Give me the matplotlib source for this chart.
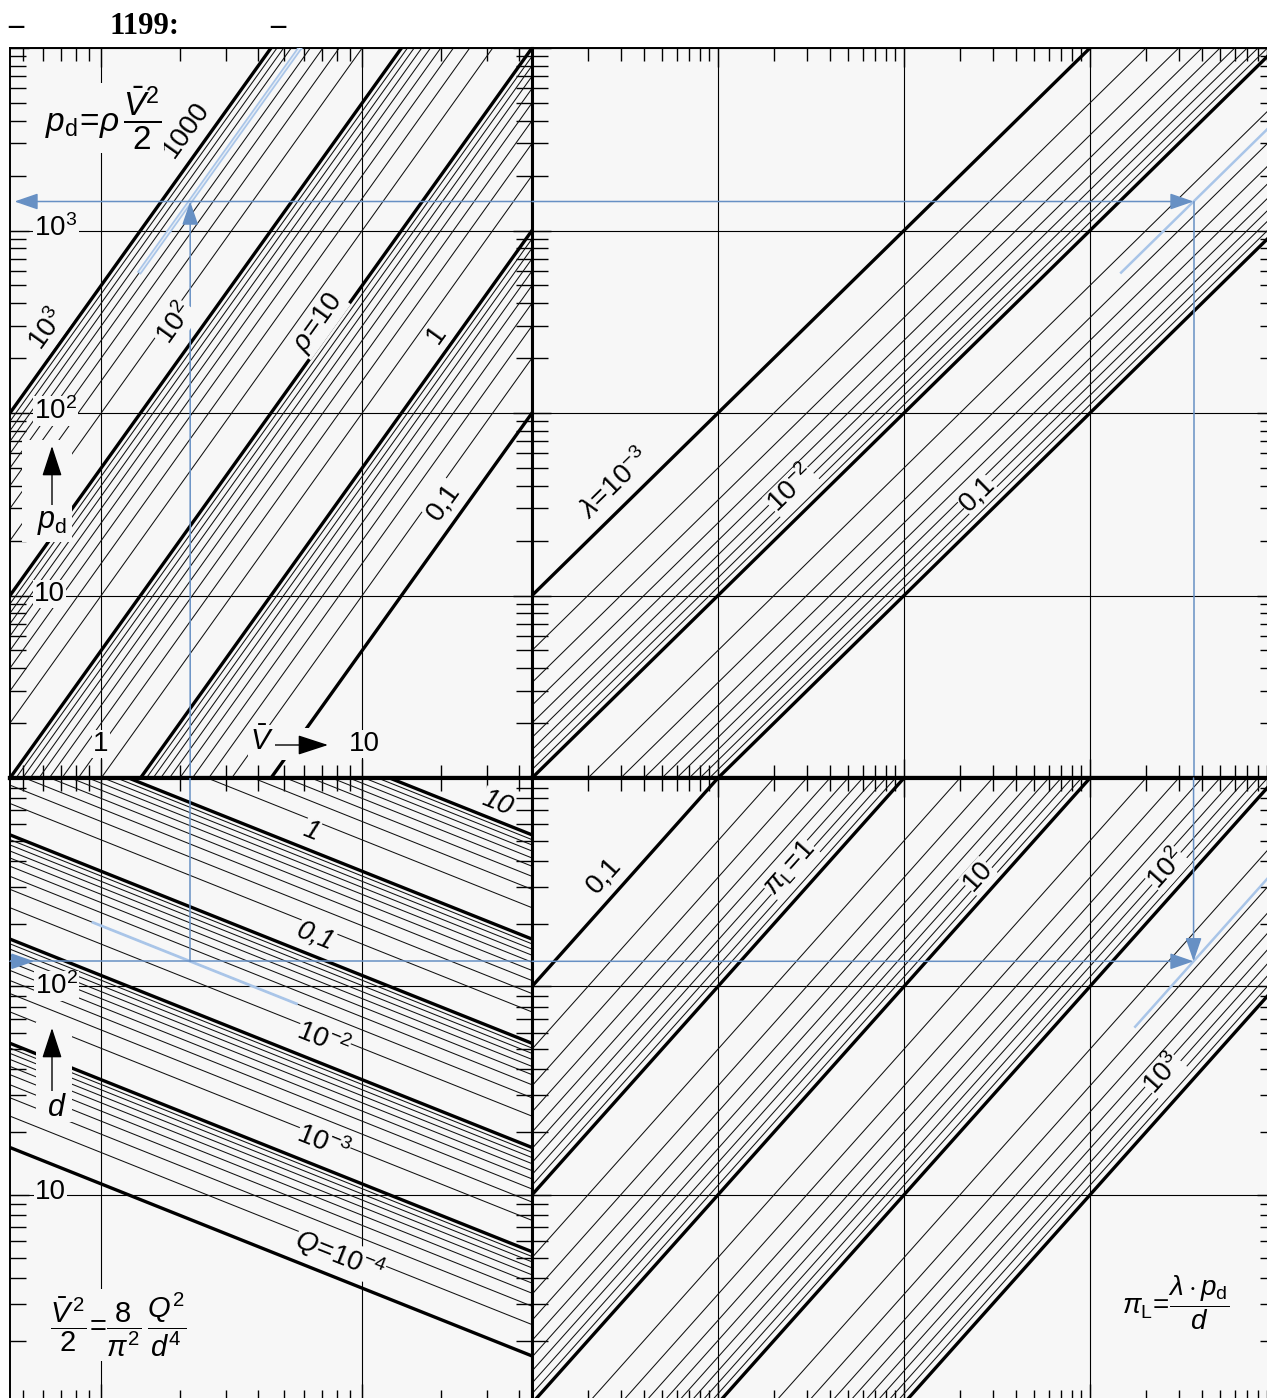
import numpy as np
import matplotlib.pyplot as plt
import matplotlib.transforms as mtransforms
from matplotlib.patches import FancyArrowPatch, Rectangle

plt.rcParams['font.family'] = ['Liberation Sans', 'DejaVu Sans']
plt.rcParams['mathtext.fontset'] = 'custom'
plt.rcParams['mathtext.rm'] = 'Liberation Sans'
plt.rcParams['mathtext.it'] = 'Liberation Sans:italic'
plt.rcParams['mathtext.bf'] = 'Liberation Sans:bold'

# axis ranges
V_lim = [0.2 ** 0.5, 2000 ** 0.5]   # mean velocity
p_lim = [1, 1e4]                    # dynamic pressure p_d
X_lim = [0.01, 100]                 # lambda * p_d
d_lim = [1, 1000]                   # diameter d

# families of lines (thick), thin lines are the 2..9 steps in between
rho_main = [0.1, 1, 10, 100, 1000]
Q_main = [1e-4, 1e-3, 1e-2, 0.1, 1, 10]
lam_main = [1e-3, 1e-2, 0.1]
piL_main = [0.1, 1, 10, 100, 1000]
steps = [2, 3, 4, 5, 6, 7, 8, 9]

# worked example (blue)
d_ex = 132
Q_ex = 0.03
rho_ex = 600
lam_ex = 0.025


def thin(main):
    return [m * a for a in main[:-1] for m in steps]


def p_of(rho, V):
    return rho * V ** 2 / 2


def V_of(Q, d):
    return 4e6 * Q / (np.pi * d ** 2)


V_ex = V_of(Q_ex, d_ex)
p_ex = p_of(rho_ex, V_ex)
X_ex = lam_ex * p_ex
piL_ex = 1000 * X_ex / d_ex

W, H = 1267, 1398
bg = '#f7f7f7'
blue = '#6790c4'
light = '#a9c5e8'

fig = plt.figure(figsize=(W / 100, H / 100), dpi=100)
px = mtransforms.Affine2D().scale(1 / W, -1 / H).translate(0, 1) + fig.transFigure


def box(x0, y0, x1, y1):
    return [x0 / W, 1 - y1 / H, (x1 - x0) / W, (y1 - y0) / H]


ax_tl = fig.add_axes(box(10, 48, 532, 778))
ax_tr = fig.add_axes(box(532, 48, 1276, 778))
ax_bl = fig.add_axes(box(10, 778, 532, 1403.3))
ax_br = fig.add_axes(box(532, 778, 1276, 1403.3))

for ax in (ax_tl, ax_tr, ax_bl, ax_br):
    ax.set_xscale('log')
    ax.set_yscale('log')
    ax.set_facecolor(bg)
    ax.tick_params(which='both', direction='in', top=True, right=True,
                   labelbottom=False, labelleft=False, width=1.0)
    ax.tick_params(which='major', length=14)
    ax.tick_params(axis='x', which='minor', length=9.5)
    ax.tick_params(axis='y', which='minor', length=11.5)
    ax.grid(True, which='major', color='black', lw=0.8, zorder=2.5)
    for s in ax.spines.values():
        s.set_linewidth(1.4)

ax_tl.spines['bottom'].set_linewidth(3.0)
ax_tr.spines['bottom'].set_linewidth(3.0)
ax_bl.spines['top'].set_linewidth(3.0)
ax_br.spines['top'].set_linewidth(3.0)
for ax in (ax_tl, ax_bl):
    ax.spines['right'].set_linewidth(2.2)
for ax in (ax_tr, ax_br):
    ax.spines['left'].set_linewidth(2.2)

thin_kw = dict(color='#111111', lw=0.75, zorder=2)
thick_kw = dict(color='black', lw=2.4, zorder=3)

# top left: p_d = rho V^2 / 2
Vv = np.array(V_lim)
for r in thin(rho_main):
    ax_tl.plot(Vv, p_of(r, Vv), **thin_kw)
for r in rho_main:
    ax_tl.plot(Vv, p_of(r, Vv), **thick_kw)

# bottom left: V^2/2 = 8/pi^2 Q^2/d^4
dv = np.array(d_lim)
for q in thin(Q_main):
    ax_bl.plot(V_of(q, dv), dv, **thin_kw)
for q in Q_main:
    ax_bl.plot(V_of(q, dv), dv, **thick_kw)

# top right: p_d = X / lambda
Xv = np.array(X_lim)
for lam in thin(lam_main):
    ax_tr.plot(Xv, Xv / lam, **thin_kw)
for lam in lam_main:
    ax_tr.plot(Xv, Xv / lam, **thick_kw)

# bottom right: pi_L = lambda p_d / d
for pl in thin(piL_main):
    ax_br.plot(Xv, 1000 * Xv / pl, **thin_kw)
for pl in piL_main:
    ax_br.plot(Xv, 1000 * Xv / pl, **thick_kw)

# highlighted lines of the example
Vh = np.array([1.41, 6.0])
ax_tl.plot(Vh, p_of(rho_ex, Vh), color=light, lw=3.4, zorder=4)
ax_tl.plot(Vh, p_of(rho_ex, Vh), color='#e4ecf6', lw=1.0, zorder=4)
Vq = np.array([0.93, 5.6])
ax_bl.plot(Vq, np.sqrt(4e6 * Q_ex / (np.pi * Vq)), color=light, lw=2.0, zorder=4)
Xh = np.array([14.7, 100])
ax_tr.plot(Xh, Xh / lam_ex, color=light, lw=1.8, zorder=4)
Xb = np.array([17.5, 100])
ax_br.plot(Xb, 1000 * Xb / piL_ex, color=light, lw=1.8, zorder=4)

for ax, xl, yl in [(ax_tl, V_lim, p_lim), (ax_tr, X_lim, p_lim),
                   (ax_bl, V_lim, d_lim), (ax_br, X_lim, d_lim)]:
    ax.set_xlim(xl)
    ax.set_ylim(yl)


# example path
def arrow(ax, tail, tip):
    ax.annotate('', xy=tip, xytext=tail, zorder=5,
                arrowprops=dict(arrowstyle='-|>,head_length=1.45,head_width=0.5',
                                mutation_scale=10, color=blue, lw=1.1,
                                shrinkA=0, shrinkB=0))


arrow(ax_tl, (V_lim[1], p_ex), (V_lim[0] * 1.04, p_ex))
arrow(ax_tl, (V_ex, 1), (V_ex, p_ex))
arrow(ax_tr, (X_lim[0], p_ex), (X_ex, p_ex))
ax_tr.plot([X_ex, X_ex], [p_ex, 1], color=blue, lw=1.1, zorder=5)
ax_bl.plot([V_ex, V_ex], [d_ex, 1000], color=blue, lw=1.1, zorder=5)
ax_bl.plot(V_lim, [d_ex, d_ex], color=blue, lw=1.1, zorder=5)
arrow(ax_bl, (V_lim[0], d_ex), (V_lim[0] * 1.24, d_ex))
arrow(ax_br, (X_ex, 1000), (X_ex, d_ex))
arrow(ax_br, (X_lim[0], d_ex), (X_ex, d_ex))

# masks under the axis arrows
for x0, y0, x1, y1 in [(22, 440, 72, 542), (36, 1022, 72, 1122), (248, 728, 332, 760)]:
    fig.add_artist(Rectangle((x0, y0), x1 - x0, y1 - y0, transform=px,
                             fc=bg, ec='none', zorder=1))

for tail, tip in [((52, 508), (52, 446)), ((52, 1092), (52, 1028)), ((270, 745), (328, 745))]:
    fig.add_artist(FancyArrowPatch(tail, tip, transform=px, zorder=2,
                                   arrowstyle='-|>,head_length=1.9,head_width=0.62',
                                   mutation_scale=10, color='black', lw=1.0,
                                   shrinkA=0, shrinkB=0))


def label(x, y, s, rot=0, size=20, style='normal', ha='center', va='center',
          mask=True, pad=0.05):
    kw = dict(boxstyle=f'square,pad={pad}', fc=bg, ec='none') if mask else None
    fig.text(x, y, s, transform=px, rotation=rot, fontsize=size, style=style,
             ha=ha, va=va, rotation_mode='anchor', bbox=kw)


# axis numbers
label(34, 228, r'$10^3$', ha='left')
label(34, 411, r'$10^2$', ha='left')
label(34, 594, '10', ha='left')
label(101, 744, '1')
label(364, 744, '10')
label(35, 986, r'$10^2$', ha='left')
label(35, 1192, '10', ha='left')
label(52, 522, r'$p_\mathrm{d}$', size=22)
label(57, 1108, r'$d$', size=22)
label(262, 741, r'$\bar{V}$', size=21)

# line labels
for s, x, y in [('1000', 186, 130), (r'$10^3$', 48, 330), (r'$10^2$', 175, 324),
                (r'$\rho\!=\!10$', 318, 323), ('1', 437, 335), ('0,1', 444, 502)]:
    label(x, y, s, rot=54.4)
for s, x, y in [(r'$\lambda\!=\!10^{-3}$', 615, 484), (r'$10^{-2}$', 791, 489), ('0,1', 977, 494)]:
    label(x, y, s, rot=44.5, pad=0.0)
for s, x, y in [('0,1', 604, 876), (r'$\pi_\mathrm{L}\!=\!1$', 790, 868), ('10', 978, 876),
                (r'$10^2$', 1167, 869), (r'$10^3$', 1163, 1074)]:
    label(x, y, s, rot=48.2, pad=0.0)
for s, x, y in [('10', 497, 803), ('1', 311, 831), ('0,1', 316, 936),
                (r'$\mathit{10}^{-2}$', 323, 1040), (r'$\mathit{10}^{-3}$', 323, 1143),
                (r'$Q\!=\!\mathit{10}^{-4}$', 340, 1255)]:
    label(x, y, s, rot=-21.8, style='italic', pad=0.0)

# formulas
label(45, 118, r'$p_\mathrm{d}\!=\!\rho\,\dfrac{\bar{V}^2}{2}$', size=24, ha='left')
label(50, 1325, r'$\dfrac{\bar{V}^{\,2}}{2}\!=\!\dfrac{8}{\pi^2}\,\dfrac{Q^2}{d^4}$', size=21, ha='left')
label(1122, 1303, r'$\pi_\mathrm{L}\!=\!\dfrac{\lambda\cdot p_\mathrm{d}}{d}$', size=20, ha='left')

# title strip
for s, x in [('–', 8), ('1199:', 110), ('–', 270)]:
    fig.text(x, 27, s, transform=px, fontsize=22, fontweight='bold',
             fontfamily='Liberation Serif', ha='left', va='center')

fig.savefig('out.png', dpi=100, facecolor='white')
